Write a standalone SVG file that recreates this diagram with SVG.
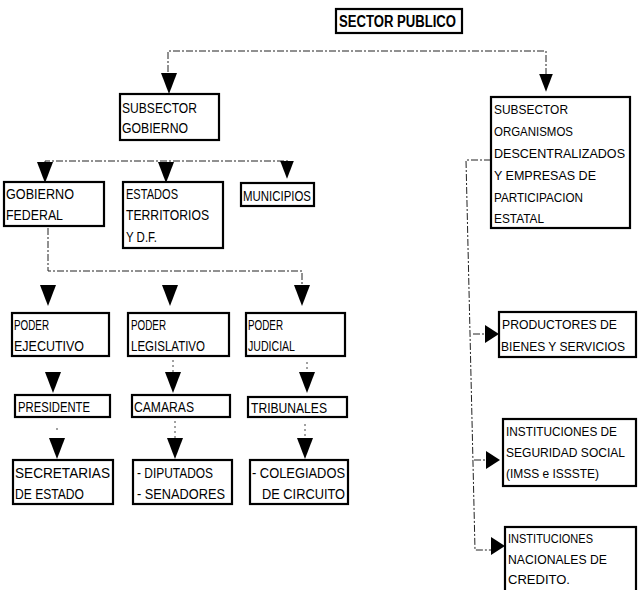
<svg xmlns="http://www.w3.org/2000/svg" xmlns:xlink="http://www.w3.org/1999/xlink" width="641" height="590" viewBox="0 0 641 590">
<style>
.box{fill:#fff;stroke:#000;stroke-width:2.2}
.t{font-family:"Liberation Sans",Arial,sans-serif;font-size:15.5px;fill:#000}
.r{font-size:13px}
.b{font-weight:bold;font-size:16px}
.c{fill:none;stroke:#222;stroke-width:1;stroke-dasharray:7 2 2 2}
.d{fill:none;stroke:#444;stroke-width:1;stroke-dasharray:2 3}
.ah{fill:#000}
</style>
<defs>
<path id="ad" d="M-8,0 L8,0 L0,21 Z"/>
<path id="ar" d="M0,-9 L0,9 L14,0 Z"/>
</defs>
<rect width="641" height="590" fill="#fff"/>
<g id="connectors">
<polyline class="c" points="168,72 168,51 546,51 546,75"/>
<polyline class="c" points="45,163 45,161 290,161"/>
<polyline class="c" points="48,228 48,271 302,271 302,285"/>
<line class="d" x1="173" y1="360" x2="173" y2="372"/>
<line class="d" x1="307" y1="362" x2="307" y2="372"/>
<line class="d" x1="175" y1="421" x2="175" y2="438"/>
<line class="d" x1="305" y1="424" x2="305" y2="438"/>
<line class="d" x1="57" y1="428" x2="57" y2="431"/>
<polyline class="c" points="491,160 466,160 475,550 492,550"/>
<line class="c" x1="473" y1="334" x2="485" y2="334"/>
<line class="c" x1="474" y1="460" x2="486" y2="460"/>
<use xlink:href="#ad" class="ah" x="169" y="73"/>
<use xlink:href="#ad" class="ah" x="546" y="74" transform="translate(546 74) scale(0.85) translate(-546 -74)"/>
<use xlink:href="#ad" class="ah" x="45" y="162"/>
<use xlink:href="#ad" class="ah" x="166" y="162"/>
<use xlink:href="#ad" class="ah" x="287" y="161" transform="translate(287 161) scale(0.85) translate(-287 -161)"/>
<use xlink:href="#ad" class="ah" x="48" y="285"/>
<use xlink:href="#ad" class="ah" x="170" y="285"/>
<use xlink:href="#ad" class="ah" x="302" y="285"/>
<use xlink:href="#ad" class="ah" x="53" y="372"/>
<use xlink:href="#ad" class="ah" x="173" y="372"/>
<use xlink:href="#ad" class="ah" x="307" y="372"/>
<use xlink:href="#ad" class="ah" x="57" y="438"/>
<use xlink:href="#ad" class="ah" x="175" y="438"/>
<use xlink:href="#ad" class="ah" x="305" y="438"/>
<use xlink:href="#ar" class="ah" x="485" y="334"/>
<use xlink:href="#ar" class="ah" x="486" y="460"/>
<use xlink:href="#ar" class="ah" x="491" y="546"/>
</g>
<g id="sector-publico"><rect class="box" x="336" y="9" width="126" height="24"/><text class="t b" x="339" y="27" textLength="117" lengthAdjust="spacingAndGlyphs">SECTOR PUBLICO</text></g>
<g id="subsector-gobierno"><rect class="box" x="120" y="94" width="99" height="46"/><text class="t" x="122" y="113" textLength="75" lengthAdjust="spacingAndGlyphs">SUBSECTOR</text><text class="t" x="122" y="133" textLength="66" lengthAdjust="spacingAndGlyphs">GOBIERNO</text></g>
<g id="subsector-organismos"><rect class="box" x="491" y="97" width="139" height="131"/>
<text class="t r" x="494" y="114" textLength="74" lengthAdjust="spacingAndGlyphs">SUBSECTOR</text>
<text class="t r" x="494" y="136" textLength="79" lengthAdjust="spacingAndGlyphs">ORGANISMOS</text>
<text class="t r" x="494" y="158" textLength="131" lengthAdjust="spacingAndGlyphs">DESCENTRALIZADOS</text>
<text class="t r" x="494" y="180" textLength="102" lengthAdjust="spacingAndGlyphs">Y EMPRESAS DE</text>
<text class="t r" x="494" y="202" textLength="89" lengthAdjust="spacingAndGlyphs">PARTICIPACION</text>
<text class="t r" x="494" y="223" textLength="50" lengthAdjust="spacingAndGlyphs">ESTATAL</text></g>
<g id="gobierno-federal"><rect class="box" x="4" y="182" width="100" height="44"/><text class="t" x="6" y="199" textLength="68" lengthAdjust="spacingAndGlyphs">GOBIERNO</text><text class="t" x="6" y="220" textLength="57" lengthAdjust="spacingAndGlyphs">FEDERAL</text></g>
<g id="estados"><rect class="box" x="123" y="182" width="100" height="66"/><text class="t" x="126" y="199" textLength="52" lengthAdjust="spacingAndGlyphs">ESTADOS</text><text class="t" x="126" y="220" textLength="83" lengthAdjust="spacingAndGlyphs">TERRITORIOS</text><text class="t" x="126" y="242" textLength="31" lengthAdjust="spacingAndGlyphs">Y D.F.</text></g>
<g id="municipios"><rect class="box" x="241" y="183" width="73" height="23"/><text class="t" x="243" y="201" textLength="68" lengthAdjust="spacingAndGlyphs">MUNICIPIOS</text></g>
<g id="poder-ejecutivo"><rect class="box" x="12" y="313" width="97" height="43"/><text class="t" x="14" y="330" textLength="35" lengthAdjust="spacingAndGlyphs">PODER</text><text class="t" x="14" y="351" textLength="70" lengthAdjust="spacingAndGlyphs">EJECUTIVO</text></g>
<g id="poder-legislativo"><rect class="box" x="128" y="313" width="101" height="43"/><text class="t" x="131" y="330" textLength="35" lengthAdjust="spacingAndGlyphs">PODER</text><text class="t" x="131" y="351" textLength="74" lengthAdjust="spacingAndGlyphs">LEGISLATIVO</text></g>
<g id="poder-judicial"><rect class="box" x="246" y="313" width="99" height="43"/><text class="t" x="248" y="330" textLength="35" lengthAdjust="spacingAndGlyphs">PODER</text><text class="t" x="248" y="351" textLength="47" lengthAdjust="spacingAndGlyphs">JUDICIAL</text></g>
<g id="presidente"><rect class="box" x="15" y="395" width="95" height="22"/><text class="t" x="18" y="412" textLength="72" lengthAdjust="spacingAndGlyphs">PRESIDENTE</text></g>
<g id="camaras"><rect class="box" x="132" y="395" width="98" height="22"/><text class="t" x="134" y="412" textLength="60" lengthAdjust="spacingAndGlyphs">CAMARAS</text></g>
<g id="tribunales"><rect class="box" x="248" y="397" width="99" height="20"/><text class="t" x="251" y="413" textLength="76" lengthAdjust="spacingAndGlyphs">TRIBUNALES</text></g>
<g id="secretarias"><rect class="box" x="13" y="460" width="100" height="44"/><text class="t" x="15" y="478" textLength="95" lengthAdjust="spacingAndGlyphs">SECRETARIAS</text><text class="t" x="15" y="499" textLength="69" lengthAdjust="spacingAndGlyphs">DE ESTADO</text></g>
<g id="diputados"><rect class="box" x="133" y="460" width="99" height="44"/><text class="t" x="137" y="478" textLength="76" lengthAdjust="spacingAndGlyphs">- DIPUTADOS</text><text class="t" x="137" y="499" textLength="88" lengthAdjust="spacingAndGlyphs">- SENADORES</text></g>
<g id="colegiados"><rect class="box" x="250" y="460" width="98" height="44"/><text class="t" x="252" y="478" textLength="93" lengthAdjust="spacingAndGlyphs">- COLEGIADOS</text><text class="t" x="262" y="499" textLength="83" lengthAdjust="spacingAndGlyphs">DE CIRCUITO</text></g>
<g id="productores"><rect class="box" x="499" y="312" width="137" height="45"/><text class="t r" x="502" y="329" textLength="115" lengthAdjust="spacingAndGlyphs">PRODUCTORES DE</text><text class="t r" x="501" y="351" textLength="124" lengthAdjust="spacingAndGlyphs">BIENES Y SERVICIOS</text></g>
<g id="seguridad-social"><rect class="box" x="503" y="419" width="133" height="67"/><text class="t r" x="506" y="436" textLength="111" lengthAdjust="spacingAndGlyphs">INSTITUCIONES DE</text><text class="t r" x="506" y="457" textLength="119" lengthAdjust="spacingAndGlyphs">SEGURIDAD SOCIAL</text><text class="t r" x="506" y="478" textLength="93" lengthAdjust="spacingAndGlyphs">(IMSS e ISSSTE)</text></g>
<g id="credito"><rect class="box" x="505" y="527" width="131" height="68"/><text class="t r" x="508" y="543" textLength="85" lengthAdjust="spacingAndGlyphs">INSTITUCIONES</text><text class="t r" x="508" y="564" textLength="99" lengthAdjust="spacingAndGlyphs">NACIONALES DE</text><text class="t r" x="508" y="584" textLength="62" lengthAdjust="spacingAndGlyphs">CREDITO.</text></g>
</svg>
